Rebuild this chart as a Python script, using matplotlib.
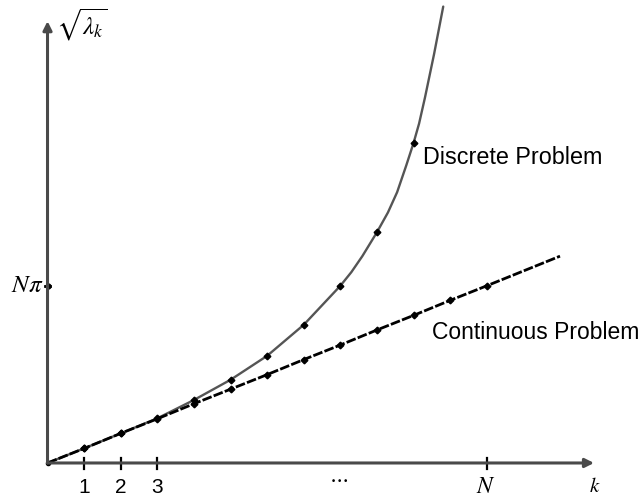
import matplotlib
matplotlib.use('Agg')
import matplotlib.pyplot as plt

plt.rcParams['font.family'] = ['Liberation Sans', 'DejaVu Sans']
plt.rcParams['mathtext.fontset'] = 'stix'

# eigenvalue index k and sqrt(lambda_k) values
k_cont = [1, 2, 3, 4, 5, 6, 7, 8, 9, 10, 11, 12]
cont_vals = [3.1, 6.3, 9.4, 12.6, 15.7, 18.8, 22.0, 25.1, 28.3, 31.4, 34.6, 37.7]
cont_end_k = 14.0
cont_end_val = 44.0

k_disc = [1, 2, 3, 4, 5, 6, 7, 8, 9, 10]
disc_vals = [3.1, 6.3, 9.5, 13.4, 17.7, 22.8, 29.4, 37.7, 49.1, 68.1]

# extra points traced along the discrete curve where it bends upward
trace_k = [8.3, 8.6, 9.3, 9.55, 9.8, 10.15, 10.31, 10.56, 10.81]
trace_vals = [40.6, 44.0, 53.3, 57.6, 63.3, 72.2, 77.7, 87.0, 97.1]

x_ticks = [1, 2, 3]
N = 12
y_mark = 37.7  # N*pi

fig = plt.figure(figsize=(6.42, 4.98), dpi=100)
ax = fig.add_axes([0, 0, 1, 1])
ax.set_xlim(-1.298, 16.24)
ax.set_ylim(-7.45, 98.5)
ax.axis('off')

axis_col = '#4a4a4a'
# axes with arrow heads
ax.annotate('', xy=(14.93, 0), xytext=(0, 0),
            arrowprops=dict(arrowstyle='-|>', color=axis_col, lw=2.2,
                            mutation_scale=13, shrinkA=0, shrinkB=0))
ax.annotate('', xy=(0, 94.0), xytext=(0, 0),
            arrowprops=dict(arrowstyle='-|>', color=axis_col, lw=2.2,
                            mutation_scale=13, shrinkA=0, shrinkB=0))

# tick marks crossing the axes
for t in x_ticks + [N]:
    ax.plot([t, t], [-1.3, 1.0], color='black', lw=1.6)
ax.plot([-0.08, 0.08], [y_mark, y_mark], color='black', lw=2)
ax.plot([0], [y_mark], marker='o', ms=3.5, color='black')

# discrete problem curve
curve_k = [0] + k_disc[:8] + trace_k[:2] + [k_disc[8]] + trace_k[2:5] + [k_disc[9]] + trace_k[5:]
curve_v = [0] + disc_vals[:8] + trace_vals[:2] + [disc_vals[8]] + trace_vals[2:5] + [disc_vals[9]] + trace_vals[5:]
ax.plot(curve_k, curve_v, color='#555555', lw=1.7, solid_capstyle='round', zorder=2)
ax.plot(k_disc, disc_vals, linestyle='none', marker='D', ms=3.4, color='black', zorder=3)

# continuous problem line
ax.plot([0] + k_cont + [cont_end_k], [0] + cont_vals + [cont_end_val],
        color='black', lw=2.0, dashes=(3.5, 0.8), zorder=2)
ax.plot(k_cont, cont_vals, linestyle='none', marker='D', ms=3.4, color='black', zorder=3)
ax.plot([0], [0], marker='o', ms=3, color='black')

# tick labels
for t in x_ticks:
    ax.text(t, -5.2, str(t), ha='center', va='center', fontsize=15)
ax.text(7.94, -3.4, r'$\cdots$', ha='center', va='center', fontsize=15)
ax.text(N - 0.02, -5.1, r'$N$', ha='center', va='center', fontsize=17)
ax.text(14.95, -5.0, r'$k$', ha='center', va='center', fontsize=15)
ax.text(-0.1, y_mark + 0.2, r'$N\pi$', ha='right', va='center', fontsize=18)
ax.text(0.22, 93.2, r'$\sqrt{\lambda_k}$', ha='left', va='center', fontsize=18)

# curve labels
ax.text(10.26, 65.0, 'Discrete Problem', ha='left', va='center', fontsize=16.8)
ax.text(10.5, 27.7, 'Continuous Problem', ha='left', va='center', fontsize=16.5)

fig.savefig('out.png', dpi=100)
